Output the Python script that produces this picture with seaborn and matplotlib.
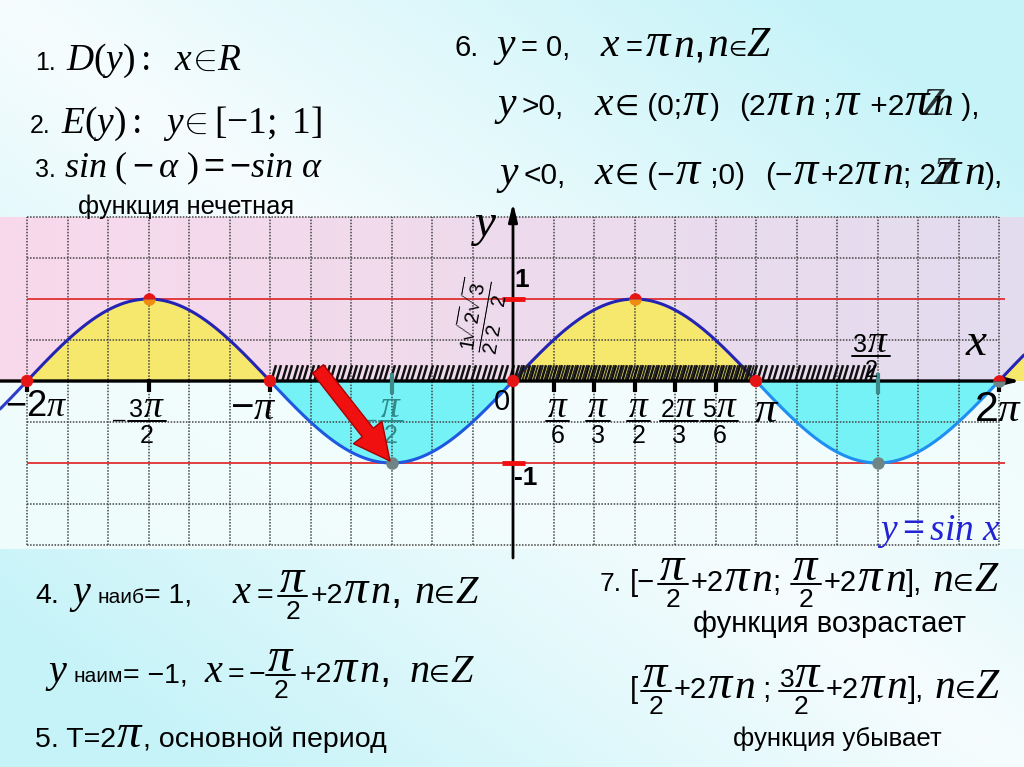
import numpy as np
import pandas as pd
import matplotlib
matplotlib.use('Agg')
import matplotlib.pyplot as plt
import matplotlib.transforms as mtransforms
from matplotlib.path import Path
from matplotlib.patches import Rectangle
from matplotlib.lines import Line2D
import seaborn as sns

# ---------- style ----------
sns.set_theme(style='white')
plt.rcParams['font.family'] = ['Liberation Sans', 'DejaVu Sans']
plt.rcParams['mathtext.fontset'] = 'custom'
plt.rcParams['mathtext.rm'] = 'Liberation Sans'
plt.rcParams['mathtext.it'] = 'Liberation Serif:italic'
plt.rcParams['mathtext.bf'] = 'Liberation Sans:bold'
plt.rcParams['mathtext.sf'] = 'Liberation Serif'

PI = np.pi

# ---------- data ----------
zeros_x = [-2 * PI, -PI, 0, PI]
zero_end_x = [2 * PI]
max_x = [-3 * PI / 2, PI / 2]
min_x = [-PI / 2, 3 * PI / 2]
pos_ticks = [PI / 6, PI / 3, PI / 2, 2 * PI / 3, 5 * PI / 6]
pos_tick_num = ['', '', '', '2', '5']
pos_tick_den = ['6', '3', '2', '3', '6']
black_ticks = [-2 * PI, -3 * PI / 2, -PI, 2 * PI] + pos_ticks
teal_ticks = [-PI / 2, 3 * PI / 2]
hatch_range = (-PI, 3 * PI / 2)
hatch_dense = (0, PI)

# ---------- geometry (pixel frame of the slide) ----------
W, H = 1024, 767
X0, Y0 = 513, 381          # origin in pixels
KX, KY = 243 / PI, 82      # pixels per unit
XL = (-X0 / KX, (W - X0) / KX)
YL = (-(H - Y0) / KY, Y0 / KY)

fig = plt.figure(figsize=(W / 100, H / 100), dpi=100)
ax = fig.add_axes([0, 0, 1, 1])
ax.set_xlim(*XL)
ax.set_ylim(*YL)
ax.axis('off')
pix = mtransforms.Affine2D().scale(1, -1).translate(0, H)

# background: soft cyan gradient
u = np.linspace(0, 1, 128)[None, :]
v = np.linspace(0, 1, 96)[:, None]
f = np.clip(np.abs(u - v) * 1.25, 0, 1)[..., None]
c_white = np.array([0.965, 0.99, 0.995])
c_cyan = np.array([0.78, 0.955, 0.975])
bg = c_white * (1 - f) + c_cyan * f
ax.imshow(bg, extent=[XL[0], XL[1], YL[0], YL[1]], aspect='auto', zorder=0)

# pink band above the x axis, white band below
g = np.linspace(0, 1, 128)[None, :, None]
pink_l = np.array([0.975, 0.85, 0.925])
pink_r = np.array([0.89, 0.865, 0.935])
band = pink_l * (1 - g) + pink_r * g
ax.imshow(np.repeat(band, 4, axis=0), extent=[XL[0], XL[1], 0, 2.0], aspect='auto', zorder=0.5)
ax.add_patch(Rectangle((XL[0], -2.05), XL[1] - XL[0], 2.05, color='#f3fdfd', alpha=0.9, zorder=0.5, lw=0))

# curve + fills
xs = np.linspace(XL[0], XL[1], 2400)
ys = np.sin(xs)
df = pd.DataFrame({'x': xs, 'y': ys, 'part': np.floor(xs / PI).astype(int).astype(str)})
ax.fill_between(xs, ys, 0, where=(ys > 0) & (xs >= -2 * PI - 1e-9), interpolate=True,
                color='#f6e86c', lw=0, zorder=1)
ax.fill_between(xs, ys, 0, where=(ys < 0) & (xs >= -2 * PI - 1e-9), interpolate=True,
                color='#74f2f6', lw=0, zorder=1)

# grid
grid_x = [k * PI / 6 for k in range(-12, 13) if k != 0]
ax.vlines(grid_x, -2, 2, colors='#444444', linestyles=(0, (1, 1)), lw=1.1, zorder=2)
ax.hlines([-2, -1.5, -0.5, 0.5, 1.5, 2], -2 * PI, 2 * PI, colors='#444444',
          linestyles=(0, (1, 1)), lw=1.1, zorder=2)

# red level lines
ax.hlines([1, -1], -2 * PI, (1005 - X0) / KX, colors='#e03030', lw=1.3, zorder=3)

pal = {'-3': '#2d3fc8', '-2': '#2424b4', '-1': '#1e58e0', '0': '#2424b4', '1': '#1e8ef0', '2': '#2424b4'}
sns.lineplot(data=df, x='x', y='y', hue='part', units='part', estimator=None, sort=False,
             palette=pal, legend=False, lw=2.2, ax=ax, zorder=5)

# hatch strip above the axis
slash = Path([(-0.3, -1), (0.3, 1)], [Path.MOVETO, Path.LINETO])
hx = np.arange(hatch_range[0] + 3 / KX, hatch_range[1], 5.4 / KX)
ax.plot(hx, np.full(len(hx), 0.1), ls='none', marker=slash, ms=12, mew=1.8, color='#111111', zorder=6)
hx2 = np.arange(hatch_dense[0] + 5.7 / KX, hatch_dense[1], 5.4 / KX)
ax.plot(hx2, np.full(len(hx2), 0.1), ls='none', marker=slash, ms=12, mew=1.4, color='#222222', zorder=6)

# axes with arrows
ax.annotate('', xy=((1021 - X0) / KX, 0), xytext=(XL[0], 0),
            arrowprops=dict(arrowstyle='-|>,head_length=0.9,head_width=0.22', color='black', lw=2.4,
                            shrinkA=0, shrinkB=0), zorder=7)
ax.annotate('', xy=(0, (Y0 - 203) / KY), xytext=(0, (Y0 - 558) / KY),
            arrowprops=dict(arrowstyle='-|>,head_length=0.9,head_width=0.22', color='black', lw=2.0,
                            shrinkA=0, shrinkB=0), zorder=7)

# ticks
ax.vlines(black_ticks, -0.13, 0.03, colors='black', lw=3, zorder=7)
ax.vlines(teal_ticks, -0.16, 0.1, colors='#3d8a8a', lw=3, zorder=7)
ax.hlines([1, -1], -11 / KX, 12 / KX, colors='#f01010', lw=3.5, zorder=7)

# special points
sns.scatterplot(x=zeros_x, y=[0] * len(zeros_x), color='#e51515', s=80, edgecolor='none', ax=ax, zorder=8)
ax.plot(max_x, [1] * len(max_x), 'o', ms=9, fillstyle='top', mfc='#e51515',
        markerfacecoloralt='#f08a10', mec='none', zorder=8)
ax.plot(min_x, [-1] * len(min_x), 'o', ms=9, mfc='#6f8585', mec='none', zorder=8)
ax.plot(zero_end_x, [0], 'o', ms=9, fillstyle='top', mfc='#e51515',
        markerfacecoloralt='#6f8585', mec='none', zorder=8)

# red arrow to the minimum
ax.annotate('', xy=(390, 461), xycoords=pix, xytext=(318, 369), textcoords=pix,
            arrowprops=dict(arrowstyle='simple,head_length=1.3,head_width=1.3,tail_width=0.5',
                            fc='#f01010', ec='#a80000', lw=1, mutation_scale=20,
                            shrinkA=0, shrinkB=0), zorder=9)


# ---------- text layout helpers (pixel coords, origin top-left) ----------
R = fig.canvas.get_renderer()


def shift(arts, dx):
    for a in arts:
        if isinstance(a, Line2D):
            a.set_xdata(np.asarray(a.get_xdata()) + dx)
        else:
            a.set_x(a.get_position()[0] + dx)


def run(x, y, parts, ms=29, ss=20.5, color='black', z=10, bar=7, ds=19):
    """Pieces left to right: '$..$' math, plain str sans, (s, size[, dy]),
    number = gap, [numerator_parts, denominator] = fraction."""
    x0, arts = x, []
    for p in parts:
        if isinstance(p, (int, float)):
            x += p
            continue
        if isinstance(p, list):
            w, a = frac(x, y - bar, p[0], p[1], ms, ss, color, z, ds)
            arts += a
            x += w
            continue
        if isinstance(p, tuple):
            s, size, dy = (p + (0,))[:3]
        else:
            s, size, dy = p, (ms if p.startswith('$') else ss), 0
        t = ax.text(x, y + dy, s, transform=pix, fontsize=size, color=color,
                    ha='left', va='baseline', zorder=z)
        arts.append(t)
        x += t.get_window_extent(renderer=R).width
    return x - x0, arts


def frac(x, ybar, num, den, ms, ss, color, z, ds=19, pad=4):
    wn, an = run(x, ybar - pad, num, ms, ss, color, z)
    wd, ad = run(x, ybar + pad + 0.716 * ds * 100 / 72, [(den, ds)], ms, ss, color, z)
    w = max(wn, wd) + 4
    shift(an, (w - wn) / 2)
    shift(ad, (w - wd) / 2)
    ln = Line2D([x + 1, x + w - 1], [ybar, ybar], transform=pix, color=color, lw=1.4, zorder=z)
    ax.add_line(ln)
    return w, an + ad + [ln]


def centred(xc, y, parts, **kw):
    w, arts = run(0, y, parts, **kw)
    shift(arts, xc - w / 2)


def lab(x, y, s, size, color='black', z=10, **kw):
    return ax.text(x, y, s, transform=pix, fontsize=size, color=color,
                   ha=kw.pop('ha', 'center'), va=kw.pop('va', 'center'), zorder=z, **kw)


PB = (r'$\pi$', 35)       # the large slide-style pi
PT = (r'$\pi$', 27)       # pi in the axis fractions
IN = ('∈', 17)

# axis labels
lab(36, 407, r'$-\mathit{2}\pi$', 26)
centred(140, 428, [('\u2013', 16, -2), 1, [[('3', 18), PT], '2']], ds=18)
lab(253, 408, r'$-\pi$', 29)
centred(384, 428, [('\u2013', 16, -2), 1, [[PT], '2']], color='#2f8a8a', z=8, ds=18)
lab(502, 402, '0', 21)
for xv, nu, de in zip(pos_ticks, pos_tick_num, pos_tick_den):
    num = [(nu, 18), PT] if nu else [PT]
    centred(X0 + xv * KX + 4, 428, [[num, de]], ds=18)
lab(767, 410, r'$\pi$', 32)
lab(998, 410, r'$\mathit{2}\pi$', 31)
centred(871, 363, [[[('3', 18), PT], '2']], ds=17)
lab(977, 343, r'$x$', 34)
lab(484, 226, r'$y$', 34)
lab(522, 280, '1', 19, fontweight='bold')
lab(526, 478, '-1', 19, fontweight='bold')
lab(481, 316, r'$\frac{1}{2}\!\!\frac{\sqrt{2}}{2}\!\!\frac{\sqrt{3}}{2}$', 21, rotation=80)
lab(877, 540, r'$y = sin\ x$', 27, color='#2323d6', ha='left', va='baseline')

# top-left block
run(35, 70, ['1.', 10, r'$D\mathsf{(}y\mathsf{):}$', 24, r'$x\!\in\! R$'], ms=27, ss=18)
run(30, 133, ['2.', 10, r'$E\mathsf{(}y\mathsf{):}$', 22, r'$y\!\in\mathsf{[-1;\ 1]}$'], ms=27, ss=18)
run(35, 177, ['3.', 8, r'$sin\ \mathsf{(}-\alpha\ \mathsf{)} = -sin\ \alpha$'], ms=26, ss=18)
lab(78, 214, 'функция нечетная', 18.4, ha='left', va='baseline')

# top-right block
run(455, 56, ['6.', 14, '$y$', 4, '= 0,', 30, '$x$', 4, '=', 3, PB, '$n,$', 4, '$n$', ('∈', 15), '$Z$'],
    ms=30, ss=21)
run(494, 115, ['$y$', 4, '>0,', 30, '$x$', ('∈', 20), ' (0;', PB, ')', 20, '(2', PB, '$n$', ' ;', 3,
               PB, ' +2', PB, '$n$', ' ),'], ms=30, ss=21.5)
lab(921, 115, '$Z$', 29, ha='left', va='baseline', alpha=0.8)
run(496, 184, ['$y$', 4, '<0,', 28, '$x$', ('∈', 20), ' (\u2212', PB, ' ;0)', 20, '(\u2212', PB,
               '+2', PB, '$n$', '; 2', PB, '$n$', '),'], ms=30, ss=21.5)
lab(932, 184, '$Z$', 29, ha='left', va='baseline', alpha=0.8)

# bottom-left block
run(35, 603, ['4.', 10, '$y$', 5, ('наиб', 15), '= 1,', 40, '$x$', 4, '=', 4, [[PB], '2'], 2,
              '+2', PB, '$n,$', 14, '$n$', IN, '$Z$'])
run(45, 682, ['$y$', 5, ('наим', 15), '= \u22121,', 16, '$x$', 4, '=', 4, '\u2212', [[PB], '2'], 3,
              '+2', PB, '$n,$', 20, '$n$', IN, '$Z$'])
run(35, 747, ['5. T=2', PB, ', основной период'])

# bottom-right block
run(600, 591, [('7.', 19), 8, '[\u2212', 2, [[PB], '2'], 2, '+2', PB, '$n$', ';', 10, [[PB], '2'], 2, '+2',
               PB, '$n$', '],', 10, '$n$', IN, '$Z$'], ms=30, ss=21)
lab(693, 632, 'функция возрастает', 21, ha='left', va='baseline')
run(630, 698, ['[', 2, [[PB], '2'], 2, '+2', PB, '$n$', ' ;', 6, [[('3', 19), PB], '2'], 2, '+2', PB,
               '$n$', '],', 10, '$n$', IN, '$Z$'], ms=30, ss=21)
lab(733, 746, 'функция убывает', 18.5, ha='left', va='baseline')

fig.savefig('out.png', dpi=100)
